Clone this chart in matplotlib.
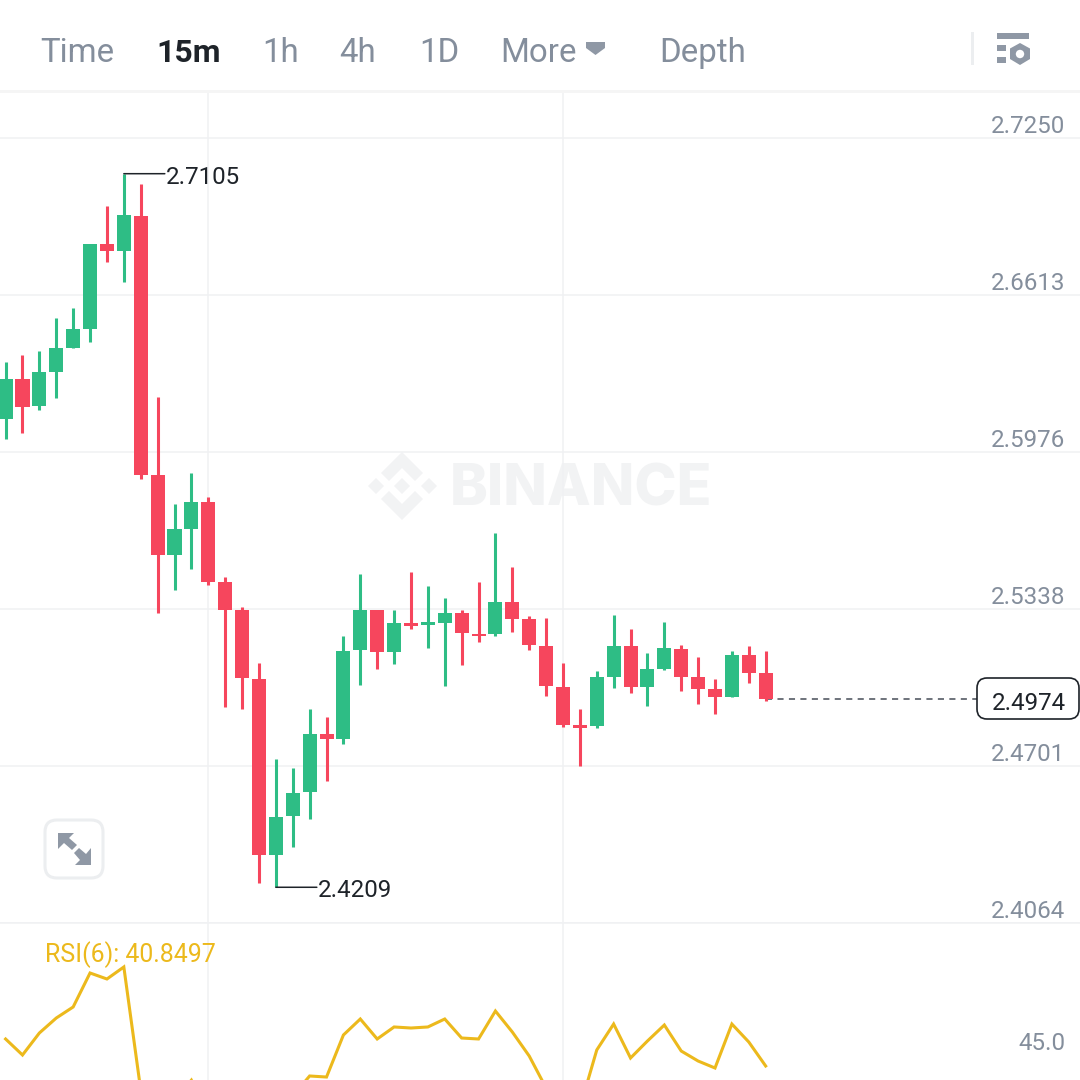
import matplotlib
matplotlib.use("Agg")
import matplotlib.pyplot as plt
from matplotlib.patches import Polygon, FancyBboxPatch, Rectangle, Circle

plt.rcParams['font.family'] = ['Roboto', 'DejaVu Sans']

# candles, oldest first
opens = [2.6110, 2.6272, 2.6163, 2.6301, 2.6398, 2.6475, 2.6820, 2.6791, 2.6934, 2.5883,
         2.5558, 2.5664, 2.5773, 2.5449, 2.5335, 2.5055, 2.4341, 2.4499, 2.4597, 2.4832,
         2.4812, 2.5173, 2.5335, 2.5164, 2.5282, 2.5274, 2.5282, 2.5323, 2.5238, 2.5238,
         2.5367, 2.5298, 2.5189, 2.5022, 2.4868, 2.4864, 2.5063, 2.5189, 2.5022, 2.5096,
         2.5177, 2.5063, 2.5014, 2.4982, 2.5152, 2.5079]
closes = [2.6272, 2.6159, 2.6301, 2.6398, 2.6475, 2.6820, 2.6791, 2.6938, 2.5883, 2.5558,
          2.5664, 2.5773, 2.5449, 2.5335, 2.5059, 2.4341, 2.4495, 2.4592, 2.4832, 2.4812,
          2.5169, 2.5335, 2.5164, 2.5282, 2.5270, 2.5286, 2.5323, 2.5242, 2.5229, 2.5367,
          2.5298, 2.5193, 2.5027, 2.4868, 2.4856, 2.5063, 2.5189, 2.5022, 2.5096, 2.5181,
          2.5063, 2.5014, 2.4982, 2.5152, 2.5079, 2.4974]
highs = [2.6341, 2.6370, 2.6386, 2.6520, 2.6560, 2.6820, 2.6974, 2.7105, 2.7063, 2.6199,
         2.5765, 2.5891, 2.5793, 2.5469, 2.5347, 2.5120, 2.4730, 2.4694, 2.4933, 2.4901,
         2.5229, 2.5481, 2.5335, 2.5335, 2.5489, 2.5432, 2.5384, 2.5335, 2.5449, 2.5647,
         2.5509, 2.5311, 2.5302, 2.5120, 2.4933, 2.5087, 2.5315, 2.5258, 2.5160, 2.5286,
         2.5193, 2.5144, 2.5055, 2.5169, 2.5189, 2.5169]
lows = [2.6029, 2.6053, 2.6146, 2.6195, 2.6398, 2.6422, 2.6747, 2.6666, 2.5866, 2.5323,
        2.5416, 2.5501, 2.5436, 2.4941, 2.4933, 2.4227, 2.4209, 2.4373, 2.4487, 2.4641,
        2.4791, 2.5031, 2.5096, 2.5116, 2.5258, 2.5181, 2.5027, 2.5112, 2.5205, 2.5229,
        2.5246, 2.5173, 2.4986, 2.4860, 2.4701, 2.4856, 2.5018, 2.4998, 2.4945, 2.5091,
        2.5006, 2.4954, 2.4913, 2.4982, 2.5039, 2.4966]
rsi = [45.52, 42.75, 46.56, 49.15, 51.06, 56.94, 55.90, 57.98, 36.70, 33.24,
       34.97, 38.40, 32.89, 31.16, 29.78, 26.31, 31.51, 35.66, 39.12, 38.94,
       46.21, 48.98, 45.52, 47.60, 47.42, 47.60, 48.98, 45.69, 45.52, 50.36,
       46.73, 42.58, 37.04, 34.97, 33.58, 43.62, 48.11, 42.23, 45.17, 47.94,
       43.44, 41.71, 40.50, 48.11, 45.00, 40.85]

price_ticks = [2.7250, 2.6613, 2.5976, 2.5338, 2.4701, 2.4064]
rsi_ticks = [45.0]
time_ticks = [12, 33]
tabs = ["Time", "15m", "1h", "4h", "1D", "More", "Depth"]
tab_x = [40, 156, 262, 339, 419, 500, 659]
rsi_name = "RSI(6): 40.8497"
last_price = 2.4974
high_idx, low_idx = 7, 16

GREEN = '#2ebd85'
RED = '#f6465d'
GRID = '#f0f1f3'
GRAY = '#848e9c'
DARK = '#1e2329'
YELLOW = '#ecb91c'
ICON = '#8f98a5'
LABEL_SIZE = 17.4

XMIN, XMAX = -0.3316, 63.61

fig = plt.figure(figsize=(10.8, 10.8), dpi=100, facecolor='white')


def px_axes(top, bottom, zorder):
    a = fig.add_axes([0, 1 - bottom / 1080, 1, (bottom - top) / 1080], zorder=zorder)
    a.patch.set_visible(False)
    return a


# watermark goes under the chart
bg = px_axes(0, 1080, 0)
bg.set_xlim(0, 1080)
bg.set_ylim(1080, 0)
bg.axis('off')
WM = '#f2f3f4'
bg.add_patch(Polygon([(402, 452), (423, 473), (415, 481), (402, 468), (389, 481), (381, 473)], color=WM, lw=0))
bg.add_patch(Polygon([(402, 520), (423, 499), (415, 491), (402, 504), (389, 491), (381, 499)], color=WM, lw=0))
for cx in (376, 402, 429):
    bg.add_patch(Polygon([(cx - 8, 486), (cx, 478), (cx + 8, 486), (cx, 494)], color=WM, lw=0))
bg.text(580.5, 491, "BINANCE", color=WM, fontsize=41, fontweight='heavy', family='Inter', ha='center', va='center')

# price pane
ax = px_axes(93, 923, 1)
ax.set_xlim(XMIN, XMAX)
ax.set_ylim(2.40650, 2.74325)
ax.set_yticks(price_ticks)
ax.set_xticks(time_ticks)
ax.grid(True, color=GRID, lw=1.1)
ax.set_axisbelow(True)
ax.tick_params(length=0, labelleft=False, labelbottom=False)
for s in ax.spines.values():
    s.set_visible(False)
ax.spines['bottom'].set_visible(True)
ax.spines['bottom'].set_color(GRID)
ax.spines['bottom'].set_linewidth(1.1)

idx = list(range(len(opens)))
colors = [GREEN if c >= o else RED for o, c in zip(opens, closes)]
ax.vlines(idx, lows, highs, color=colors, lw=2.2, zorder=3)
ax.bar(idx, [c - o for o, c in zip(opens, closes)], bottom=opens, width=0.83, color=colors, lw=0, zorder=4)

for p in price_ticks:
    ax.annotate(f"{p:.4f}", xy=(1, p), xycoords=ax.get_yaxis_transform(), xytext=(-14.5, 11.5),
                textcoords='offset pixels', ha='right', va='center', color=GRAY, fontsize=LABEL_SIZE)

# high / low markers
for i, val, txt, dy in [(high_idx, highs[high_idx], "2.7105", -4), (low_idx, lows[low_idx], "2.4209", -3)]:
    ax.annotate("", xy=(i, val), xytext=(41, 0), textcoords='offset pixels', zorder=6,
                arrowprops=dict(arrowstyle='-', color=DARK, lw=1.1, shrinkA=0, shrinkB=0))
    ax.annotate(txt, xy=(i, val), xytext=(42, dy), textcoords='offset pixels', ha='left', va='center',
                color=DARK, fontsize=LABEL_SIZE, zorder=6)

# last price
ax.plot([idx[-1], 57.5], [last_price, last_price], color='#474d57', lw=1.1, dashes=(4, 3.5), zorder=2)

# rsi pane
ax2 = px_axes(923, 1080, 1)
ax2.set_xlim(XMIN, XMAX)
ax2.set_ylim(45 - (1080 - 1042) / 5.78, 45 + (1042 - 923) / 5.78)
ax2.set_xticks(time_ticks)
ax2.set_yticks([])
ax2.grid(True, axis='x', color=GRID, lw=1.1)
ax2.set_axisbelow(True)
ax2.tick_params(length=0, labelbottom=False)
for s in ax2.spines.values():
    s.set_visible(False)
ax2.plot(idx, rsi, color=YELLOW, lw=2.2, solid_joinstyle='miter')
for t in rsi_ticks:
    ax2.annotate(f"{t:.1f}", xy=(1, t), xycoords=ax2.get_yaxis_transform(), xytext=(-14.5, -2),
                 textcoords='offset pixels', ha='right', va='center', color=GRAY, fontsize=LABEL_SIZE)

# header, buttons and the rest of the app chrome
ui = px_axes(0, 1080, 2)
ui.set_xlim(0, 1080)
ui.set_ylim(1080, 0)
ui.axis('off')
for name, x in zip(tabs, tab_x):
    active = name == "15m"
    ui.text(x, 53, name, color=DARK if active else GRAY, fontsize=23 if active else 23.8,
            fontweight='bold' if active else 'normal', ha='left', va='center')
ui.add_patch(Polygon([(586, 42), (605, 42), (605, 48), (595.5, 55), (586, 48)], color=ICON, lw=0))
ui.add_patch(Rectangle((0, 90), 1080, 3, color='#f5f5f5', lw=0))
ui.add_patch(Rectangle((971, 32), 2.5, 33, color='#eceef0', lw=0))
ui.add_patch(Rectangle((997, 33), 32, 5.5, color=ICON, lw=0))
ui.add_patch(Rectangle((997, 45), 9, 6, color=ICON, lw=0))
ui.add_patch(Rectangle((997, 57), 9, 6, color=ICON, lw=0))
ui.add_patch(Polygon([(1020, 43), (1030, 48.5), (1030, 59), (1020, 65), (1010, 59), (1010, 48.5)], color=ICON, lw=0))
ui.add_patch(Circle((1020, 54), 4.2, color='white', lw=0))

# expand button
ui.add_patch(FancyBboxPatch((56, 831), 36, 36, boxstyle='round,pad=11,rounding_size=12',
                            fc='white', ec='#eceef0', lw=2.2))
ui.add_patch(Polygon([(58, 833), (74, 833), (69, 838), (77, 845), (72, 850), (64, 843), (58, 849)], color=ICON, lw=0))
ui.add_patch(Polygon([(91, 865), (75, 865), (80, 860), (74, 853), (79, 848), (86, 854), (91, 848)], color=ICON, lw=0))

# last price box
ui.add_patch(FancyBboxPatch((985, 686), 86, 25, boxstyle='round,pad=8,rounding_size=10',
                            fc='white', ec=DARK, lw=1.2))
ui.text(1028.5, 704, f"{last_price:.4f}", color=DARK, fontsize=LABEL_SIZE, ha='center', va='center')
ui.text(45, 955, rsi_name, color=YELLOW, fontsize=17.9, ha='left', va='center')

fig.savefig('out.png', dpi=100)
